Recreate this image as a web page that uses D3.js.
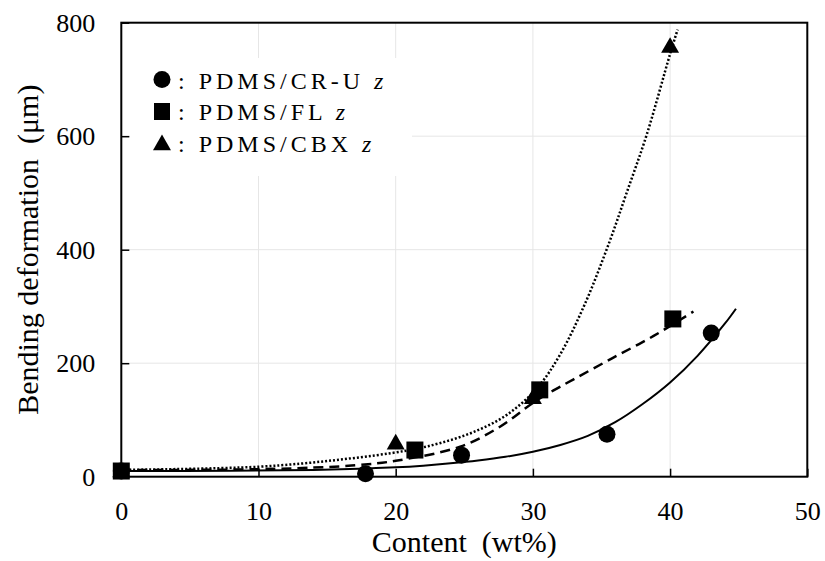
<!DOCTYPE html>
<html>
<head>
<meta charset="utf-8">
<script src="https://cdn.jsdelivr.net/npm/d3@7"></script>
<style>
  body { margin: 0; background: #fff; }
  svg text { font-family: "Liberation Serif", "Times New Roman", serif; fill: #000; }
</style>
</head>
<body>
<svg width="825" height="561"></svg>
<script>
var crX = [0, 17.8, 24.8, 35.4, 43.0];
var crY = [10, 5, 38, 75, 253];
var flX = [0, 21.4, 30.5, 40.2];
var flY = [10, 47, 153, 278];
var cbX = [0, 20, 30, 40];
var cbY = [10, 59, 139, 758];

// trend curves
var crTrendX = [0, 8, 14, 18, 20, 22, 24, 26, 28, 30, 32, 34, 36, 38, 40, 42, 44, 44.8];
var crTrendY = [10, 10.5, 12, 14.5, 16.5, 19.5, 23.5, 28.5, 35, 44, 56, 72, 96, 128, 166, 213, 270, 296];
var flTrendX = [0, 8, 14, 17.3, 20, 24.7, 27.6, 30, 31.5, 33, 35.8, 38.8, 41.7];
var flTrendY = [12, 12.5, 16, 20.6, 28, 53, 88, 130, 152, 172, 209, 248, 291];
var cbTrendX = [0, 10, 15.9, 20.8, 23.2, 25.7, 28.1, 30.3, 32, 33.8, 35.6, 36.8, 38.3, 40, 40.55];
var cbTrendY = [12, 17.6, 30, 46, 59, 79, 109, 156, 216, 305, 415, 498, 603, 745, 788];

var xTicks = [0, 10, 20, 30, 40, 50];
var yTicks = [0, 200, 400, 600, 800];
var legendLabels = ['PDMS/CR-U', 'PDMS/FL', 'PDMS/CBX'];

var serif = '"Liberation Serif", "Times New Roman", serif';
var svg = d3.select('svg');

var x = d3.scaleLinear().domain([0, 50]).range([121.3, 807.3]);
var y = d3.scaleLinear().domain([0, 800]).range([476.7, 22.7]);

var pick = function(xs, ys) {
    return xs.map(function(v, i) { return {x: v, y: ys[i]}; });
};

// grid
var grid = svg.append('g').attr('stroke', '#e6e6e6').attr('stroke-width', 1);
grid.selectAll('.gx').data(xTicks.slice(1, -1)).enter().append('line')
    .attr('x1', function(d) { return x(d); }).attr('x2', function(d) { return x(d); })
    .attr('y1', y(800)).attr('y2', y(0));
grid.selectAll('.gy').data(yTicks.slice(1, -1)).enter().append('line')
    .attr('y1', function(d) { return y(d); }).attr('y2', function(d) { return y(d); })
    .attr('x1', x(0)).attr('x2', x(50));

// legend background hides the grid
svg.append('rect')
    .attr('x', 130).attr('y', 58).attr('width', 282).attr('height', 118)
    .attr('fill', '#fff');

// axes (ticks inward)
var xAxis = d3.axisBottom(x).tickValues(xTicks).tickSize(-8).tickPadding(24.5);
var yAxis = d3.axisLeft(y).tickValues(yTicks).tickSize(-8).tickPadding(26);

var gx = svg.append('g').attr('transform', 'translate(0,' + y(0) + ')').call(xAxis);
var gy = svg.append('g').attr('transform', 'translate(' + x(0) + ',0)').call(yAxis);
[gx, gy].forEach(function(g) {
    g.attr('font-family', serif).attr('font-size', 26);
    g.select('.domain').remove();
    g.selectAll('line').attr('stroke', '#000').attr('stroke-width', 1.5);
    g.selectAll('text').attr('font-family', serif).attr('font-size', 26);
});

// frame
svg.append('rect')
    .attr('x', x(0)).attr('y', y(800))
    .attr('width', x(50) - x(0)).attr('height', y(0) - y(800))
    .attr('fill', 'none').attr('stroke', '#000').attr('stroke-width', 2);

// trend lines
var line = d3.line()
    .x(function(d) { return x(d.x); })
    .y(function(d) { return y(d.y); })
    .curve(d3.curveCatmullRom);

svg.append('path').datum(pick(crTrendX, crTrendY))
    .attr('d', line).attr('fill', 'none').attr('stroke', '#000').attr('stroke-width', 2);
svg.append('path').datum(pick(flTrendX, flTrendY))
    .attr('d', line).attr('fill', 'none').attr('stroke', '#000').attr('stroke-width', 2.5)
    .attr('stroke-dasharray', '10,6');
svg.append('path').datum(pick(cbTrendX, cbTrendY))
    .attr('d', line).attr('fill', 'none').attr('stroke', '#000').attr('stroke-width', 2.5)
    .attr('stroke-dasharray', '2,2');

// markers
var tri = d3.symbol().type(d3.symbolTriangle).size(140);

svg.selectAll('.cr').data(pick(crX, crY)).enter().append('circle')
    .attr('cx', function(d) { return x(d.x); })
    .attr('cy', function(d) { return y(d.y); })
    .attr('r', 8.5).attr('fill', '#000');

svg.selectAll('.cb').data(pick(cbX, cbY)).enter().append('path')
    .attr('d', tri)
    .attr('transform', function(d) { return 'translate(' + x(d.x) + ',' + (y(d.y) + 1) + ')'; })
    .attr('fill', '#000');

svg.selectAll('.fl').data(pick(flX, flY)).enter().append('rect')
    .attr('x', function(d) { return x(d.x) - 8.5; })
    .attr('y', function(d) { return y(d.y) - 8.5; })
    .attr('width', 17).attr('height', 17).attr('fill', '#000');

// legend
var legY = [88.5, 120, 152];
svg.append('circle').attr('cx', 162).attr('cy', legY[0] - 9).attr('r', 8.5).attr('fill', '#000');
svg.append('rect').attr('x', 154).attr('y', legY[1] - 17).attr('width', 16).attr('height', 17).attr('fill', '#000');
svg.append('path').attr('d', tri).attr('transform', 'translate(162,' + (legY[2] - 7) + ')').attr('fill', '#000');

legendLabels.forEach(function(lbl, i) {
    var t = svg.append('text')
        .attr('x', 178).attr('y', legY[i])
        .style('font-size', '24px')
        .style('letter-spacing', '4px');
    t.append('tspan').text(': ' + lbl + ' ');
    t.append('tspan').style('font-style', 'italic').text('z');
});

// axis titles
svg.append('text')
    .attr('x', (x(0) + x(50)) / 2).attr('y', 552)
    .attr('text-anchor', 'middle')
    .style('font-size', '30px')
    .attr('xml:space', 'preserve')
    .text('Content  (wt%)');

svg.append('text')
    .attr('transform', 'translate(38,' + (y(0) + y(800)) / 2 + ') rotate(-90)')
    .attr('text-anchor', 'middle')
    .style('font-size', '30px')
    .attr('xml:space', 'preserve')
    .text('Bending deformation  (\u03bcm)');
</script>
</body>
</html>
